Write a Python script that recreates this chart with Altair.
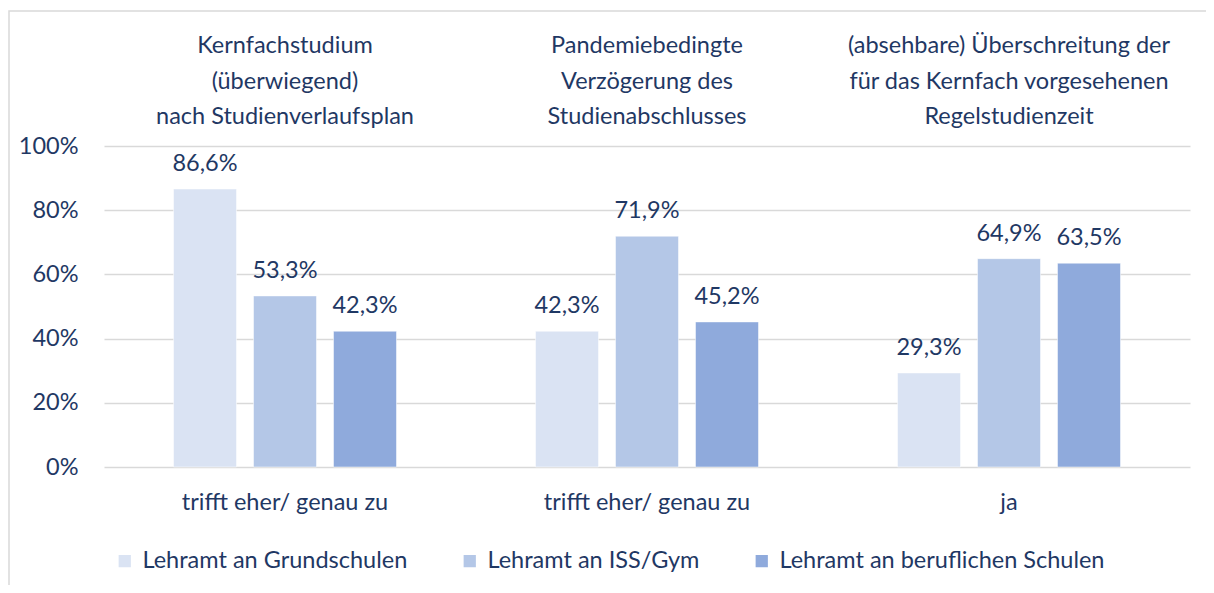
import altair as alt
import pandas as pd

headers = [
    "Kernfachstudium|(überwiegend)|nach Studienverlaufsplan",
    "Pandemiebedingte|Verzögerung des|Studienabschlusses",
    "(absehbare) Überschreitung der|für das Kernfach vorgesehenen|Regelstudienzeit",
]
answers = ["trifft eher/ genau zu", "trifft eher/ genau zu", "ja"]
series = ["Lehramt an Grundschulen", "Lehramt an ISS/Gym", "Lehramt an beruflichen Schulen"]
grundschulen = [86.6, 42.3, 29.3]
iss_gym = [53.3, 71.9, 64.9]
beruflich = [42.3, 45.2, 63.5]
colors = ["#DAE3F3", "#B4C7E7", "#8FAADC"]
y_ticks = [0, 20, 40, 60, 80, 100]

TEXT = "#1F3864"
FONT = "Lato"
FS = 23.5

rows = []
for s, vals in zip(series, [grundschulen, iss_gym, beruflich]):
    for h, v in zip(headers, vals):
        rows.append({"header": h, "series": s, "value": v,
                     "label": f"{v:.1f}".replace(".", ",") + "%"})
df = pd.DataFrame(rows)
groups = pd.DataFrame({"header": headers, "answer": answers})

W, H = 1086, 321

x_enc = alt.X("header:N", sort=headers, axis=None,
              scale=alt.Scale(paddingInner=0, paddingOuter=0))
xo_enc = alt.XOffset("series:N", sort=series,
                     scale=alt.Scale(paddingInner=0.2125, paddingOuter=0.869))
y_enc = alt.Y("value:Q", scale=alt.Scale(domain=[0, 100], nice=False),
              axis=alt.Axis(values=y_ticks, labelExpr="datum.value + '%'", title=None,
                            domain=False, ticks=False, labelPadding=26,
                            labelFontSize=FS, labelColor=TEXT, labelFont=FONT,
                            gridColor="#D9D9D9", gridWidth=1.5))

bars = alt.Chart(df).mark_bar(stroke="white", strokeWidth=0.5).encode(
    x=x_enc, xOffset=xo_enc, y=y_enc,
    color=alt.Color("series:N", sort=series,
                    scale=alt.Scale(domain=series, range=colors),
                    legend=alt.Legend(title=None, orient="none", legendX=9, legendY=403,
                                      direction="horizontal", symbolType="square",
                                      symbolSize=150, symbolStrokeWidth=0,
                                      labelFontSize=FS, labelColor=TEXT, labelFont=FONT,
                                      labelLimit=0, labelOffset=6, columnPadding=50)),
)

labels = alt.Chart(df).mark_text(fontSize=FS, color=TEXT, font=FONT,
                                 baseline="alphabetic", dy=-18).encode(
    x=x_enc, xOffset=xo_enc, y=alt.Y("value:Q"), text="label:N")

head = alt.Chart(groups).mark_text(fontSize=FS, color=TEXT, font=FONT, lineBreak="|",
                                   lineHeight=35.5, baseline="middle").encode(
    x=x_enc, y=alt.value(-100), text="header:N")

ans = alt.Chart(groups).mark_text(fontSize=FS, color=TEXT, font=FONT,
                                  baseline="middle").encode(
    x=x_enc, y=alt.value(H + 36), text="answer:N")

frame = alt.Chart(pd.DataFrame({"k": [0]})).mark_rect(
    fill=None, stroke="#D9D9D9", strokeWidth=1.5).encode(
    x=alt.value(-95), x2=alt.value(W + 200), y=alt.value(-135), y2=alt.value(H + 300))

chart = alt.layer(frame, bars, labels, head, ans).properties(
    width=W, height=H,
    background="white",
    autosize=alt.AutoSizeParams(type="none"),
    padding={"left": 96, "top": 138, "right": 16, "bottom": 118},
).configure_view(strokeWidth=0, stroke=None)

chart.save("out.html", embed_options={"renderer": "svg", "actions": False})
